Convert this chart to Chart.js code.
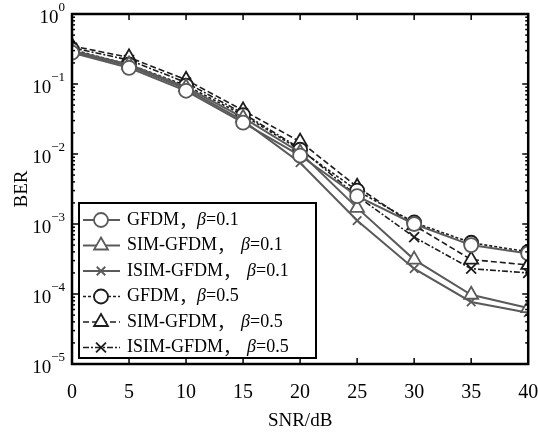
<!DOCTYPE html>
<html>
<head>
<meta charset="utf-8">
<script src="https://cdn.jsdelivr.net/npm/chart.js"></script>
<style>
  html, body { margin: 0; padding: 0; background: #fff; }
  #wrap { width: 538px; height: 437px; }
</style>
</head>
<body>
<div id="wrap"><canvas id="berChart" width="538" height="437"></canvas></div>
<script>
const snr = [0, 5, 10, 15, 20, 25, 30, 35, 40];
const gfdm01 = [0.28, 0.17, 0.080, 0.028, 0.0095, 0.0025, 0.0010, 0.00050, 0.00038];
const sim01 = [0.30, 0.19, 0.090, 0.033, 0.0105, 0.0017, 0.00031, 0.0000975, 0.000063];
const isim01 = [0.29, 0.18, 0.085, 0.030, 0.0075, 0.00112, 0.00023, 0.000077, 0.000054];
const gfdm05 = [0.31, 0.19, 0.095, 0.036, 0.0115, 0.0030, 0.00105, 0.00054, 0.00040];
const sim05 = [0.35, 0.24, 0.115, 0.042, 0.015, 0.0034, 0.00096, 0.00031, 0.00026];
const isim05 = [0.33, 0.22, 0.105, 0.038, 0.012, 0.0025, 0.00065, 0.00023, 0.00020];
const names = ["GFDM", "SIM-GFDM", "ISIM-GFDM", "GFDM", "SIM-GFDM", "ISIM-GFDM"];
const betas = ["0.1", "0.1", "0.1", "0.5", "0.5", "0.5"];
const xTicks = [0, 5, 10, 15, 20, 25, 30, 35, 40];
const yExponents = [0, -1, -2, -3, -4, -5];

const serif = '"Liberation Serif", "Times New Roman", serif';
const gray = "#5a5a5a";
const dark = "#1c1c1c";

function series(data, color, style, radius, dash, width) {
  return {
    data: data.map((v, i) => ({ x: snr[i], y: v })),
    borderColor: color,
    borderWidth: width,
    borderDash: dash,
    pointStyle: style,
    pointRadius: radius,
    pointBorderColor: color,
    pointBackgroundColor: "#fff",
    pointBorderWidth: 1.8,
    tension: 0,
    fill: false,
  };
}

const datasets = [
  series(gfdm01, gray, "circle", 7, [], 2),
  series(sim01, gray, "triangle", 8, [], 2),
  series(isim01, gray, "crossRot", 6, [], 2),
  series(gfdm05, dark, "circle", 7, [3, 2], 1.6),
  series(sim05, dark, "triangle", 8, [6, 3], 1.6),
  series(isim05, dark, "crossRot", 7, [6, 2, 2, 2], 1.6),
];

function line(ctx, x1, y1, x2, y2) {
  ctx.beginPath();
  ctx.moveTo(x1, y1);
  ctx.lineTo(x2, y2);
  ctx.stroke();
}

const framePlugin = {
  id: "frame",
  afterDraw(chart) {
    const { ctx, chartArea: a } = chart;
    const x = chart.scales.x;
    const y = chart.scales.y;
    ctx.save();
    ctx.strokeStyle = "#000";
    ctx.setLineDash([]);

    // tick marks pointing inward
    ctx.lineWidth = 1.5;
    xTicks.forEach((v) => {
      const px = x.getPixelForValue(v);
      line(ctx, px, a.bottom, px, a.bottom - 6);
      line(ctx, px, a.top, px, a.top + 6);
    });
    yExponents.forEach((e) => {
      const py = y.getPixelForValue(Math.pow(10, e));
      line(ctx, a.left, py, a.left + 6, py);
      line(ctx, a.right, py, a.right - 6, py);
      if (e > -5) {
        for (let m = 2; m <= 9; m++) {
          const pm = y.getPixelForValue(m * Math.pow(10, e - 1));
          line(ctx, a.left, pm, a.left + 3, pm);
          line(ctx, a.right, pm, a.right - 3, pm);
        }
      }
    });

    ctx.lineWidth = 2.5;
    ctx.strokeRect(a.left, a.top, a.right - a.left, a.bottom - a.top);

    // y tick labels 10^n
    ctx.fillStyle = "#000";
    ctx.textBaseline = "middle";
    yExponents.forEach((e) => {
      const py = y.getPixelForValue(Math.pow(10, e));
      const exp = e === 0 ? "0" : "\u2212" + Math.abs(e);
      ctx.font = "13px " + serif;
      const ew = ctx.measureText(exp).width;
      ctx.textAlign = "left";
      const right = a.left - 7;
      ctx.fillText(exp, right - ew, py - 6);
      ctx.font = "19px " + serif;
      ctx.textAlign = "right";
      ctx.fillText("10", right - ew, py + 4);
    });

    // axis titles
    ctx.font = "19px " + serif;
    ctx.textAlign = "center";
    ctx.fillText("SNR/dB", (a.left + a.right) / 2, 421);
    ctx.save();
    ctx.translate(22, (a.top + a.bottom) / 2);
    ctx.rotate(-Math.PI / 2);
    ctx.fillText("BER", 0, 0);
    ctx.restore();

    // legend inside the plot
    const bx = 79, by = 203, bw = 237, bh = 155;
    ctx.fillStyle = "#fff";
    ctx.fillRect(bx, by, bw, bh);
    ctx.lineWidth = 2;
    ctx.strokeStyle = "#000";
    ctx.strokeRect(bx, by, bw, bh);

    chart.data.datasets.forEach((ds, i) => {
      const ry = 220 + i * 25.5;
      ctx.strokeStyle = ds.borderColor;
      ctx.lineWidth = ds.borderWidth;
      ctx.setLineDash(ds.borderDash);
      line(ctx, 83, ry, 120, ry);
      ctx.setLineDash([]);
      ctx.lineWidth = ds.pointBorderWidth;
      ctx.fillStyle = "#fff";
      Chart.helpers.drawPoint(ctx, {
        pointStyle: ds.pointStyle,
        radius: ds.pointRadius,
        rotation: 0,
        borderWidth: ds.pointBorderWidth,
      }, 101, ry);

      ctx.fillStyle = "#000";
      ctx.textAlign = "left";
      ctx.textBaseline = "middle";
      let tx = 127;
      ctx.font = "18px " + serif;
      ctx.fillText(names[i], tx, ry);
      tx += ctx.measureText(names[i]).width;
      ctx.font = '18px "Noto Sans CJK SC", sans-serif';
      ctx.fillText("\uff0c", tx, ry);
      tx += ctx.measureText("\uff0c").width + (i % 3 === 0 ? 0 : 6);
      ctx.font = "italic 18px " + serif;
      ctx.fillText("\u03b2", tx, ry);
      tx += ctx.measureText("\u03b2").width;
      ctx.font = "18px " + serif;
      ctx.fillText("=" + betas[i], tx, ry);
    });
    ctx.restore();
  },
};

new Chart(document.getElementById("berChart"), {
  type: "line",
  data: { datasets: datasets },
  options: {
    responsive: false,
    animation: false,
    layout: { padding: { top: 14, right: 8, left: 0, bottom: 0 } },
    plugins: { legend: { display: false }, tooltip: { enabled: false } },
    scales: {
      x: {
        type: "linear",
        min: 0,
        max: 40,
        grid: { display: false },
        border: { display: false },
        afterBuildTicks: (scale) => {
          scale.ticks = xTicks.map((v) => ({ value: v }));
        },
        afterFit: (scale) => {
          scale.height = 73;
          scale.paddingLeft = 0;
          scale.paddingRight = 0;
        },
        ticks: {
          color: "#000",
          padding: 9,
          maxRotation: 0,
          font: { family: serif, size: 20 },
        },
      },
      y: {
        type: "logarithmic",
        min: 1e-5,
        max: 1,
        grid: { display: false },
        border: { display: false },
        ticks: { display: false },
        afterFit: (scale) => {
          scale.width = 72;
          scale.paddingTop = 0;
          scale.paddingBottom = 0;
        },
      },
    },
  },
  plugins: [framePlugin],
});
</script>
</body>
</html>
